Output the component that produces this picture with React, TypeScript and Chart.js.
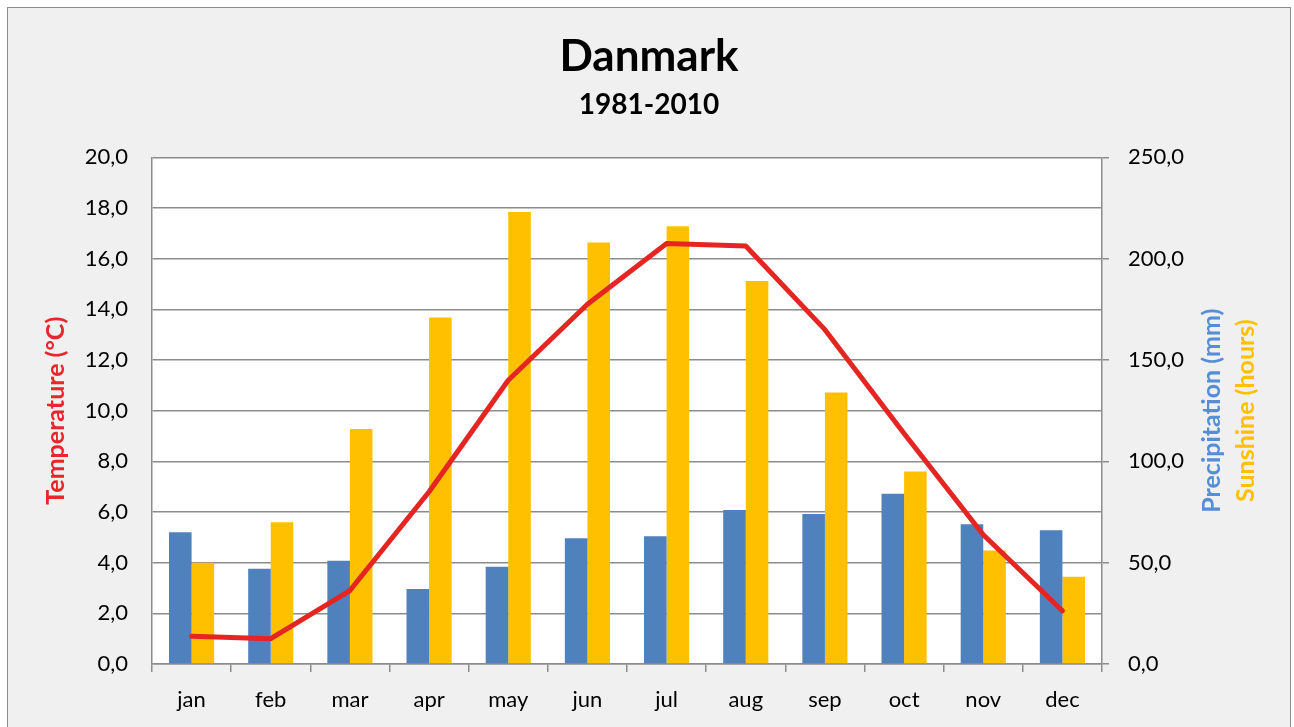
import React, { useEffect, useRef } from 'react';
import { Chart, registerables } from 'chart.js';

Chart.register(...registerables);

const months = ['jan', 'feb', 'mar', 'apr', 'may', 'jun', 'jul', 'aug', 'sep', 'oct', 'nov', 'dec'];
const temperature = [1.1, 1.0, 2.9, 6.8, 11.2, 14.2, 16.6, 16.5, 13.2, 9.1, 5.1, 2.1];
const precipitation = [65, 47, 51, 37, 48, 62, 63, 76, 74, 84, 69, 66];
const sunshine = [50, 70, 116, 171, 223, 208, 216, 189, 134, 95, 56, 43];

const FONT = 'Lato';
const GRID = '#8c8c8c';
const RED = '#e42521';
const RED_TITLE = '#e8262b';
const BLUE = '#4f81bd';
const BLUE_TITLE = '#558ed5';
const YELLOW = '#ffc000';

const fmt = (v: number | string) => Number(v).toFixed(1).replace('.', ',');

const plotBgPlugin = {
  id: 'plotBg',
  beforeDraw(chart: any) {
    const { ctx, chartArea } = chart;
    if (!chartArea) return;
    ctx.save();
    ctx.fillStyle = '#ffffff';
    ctx.fillRect(chartArea.left, chartArea.top, chartArea.right - chartArea.left, chartArea.bottom - chartArea.top);
    ctx.restore();
  },
};

const rightTitlesPlugin = {
  id: 'rightTitles',
  afterDraw(chart: any) {
    const { ctx, chartArea } = chart;
    if (!chartArea) return;
    const cy = (chartArea.top + chartArea.bottom) / 2;
    const items: [string, string, number][] = [
      ['Precipitation (mm)', BLUE_TITLE, chartArea.right + 110],
      ['Sunshine (hours)', YELLOW, chartArea.right + 144],
    ];
    ctx.save();
    ctx.font = `bold 25px ${FONT}`;
    ctx.textAlign = 'center';
    ctx.textBaseline = 'middle';
    for (const [text, color, x] of items) {
      ctx.save();
      ctx.translate(x, cy);
      ctx.rotate(-Math.PI / 2);
      ctx.fillStyle = color;
      ctx.fillText(text, 0, 0);
      ctx.restore();
    }
    ctx.restore();
  },
};

export default function App() {
  const canvasRef = useRef<HTMLCanvasElement | null>(null);

  useEffect(() => {
    const canvas = canvasRef.current;
    if (!canvas) return;
    const tickFont = { family: FONT, size: 22 };
    const chart = new Chart(canvas, {
      type: 'bar',
      data: {
        labels: months,
        datasets: [
          {
            type: 'bar',
            label: 'Precipitation (mm)',
            data: precipitation,
            backgroundColor: BLUE,
            borderWidth: 0,
            yAxisID: 'y1',
            order: 1,
            barPercentage: 1,
            categoryPercentage: 0.57,
          },
          {
            type: 'bar',
            label: 'Sunshine (hours)',
            data: sunshine,
            backgroundColor: YELLOW,
            borderWidth: 0,
            yAxisID: 'y1',
            order: 1,
            barPercentage: 1,
            categoryPercentage: 0.57,
          },
          {
            type: 'line',
            label: 'Temperature (°C)',
            data: temperature,
            borderColor: RED,
            backgroundColor: RED,
            borderWidth: 5,
            pointRadius: 0,
            tension: 0,
            borderJoinStyle: 'round',
            borderCapStyle: 'round',
            yAxisID: 'y',
            order: 0,
          } as any,
        ],
      },
      options: {
        responsive: false,
        animation: false,
        layout: { padding: 0 },
        plugins: {
          legend: { display: false },
          tooltip: { enabled: false },
          title: {
            display: true,
            text: 'Danmark',
            color: '#000',
            font: { family: FONT, size: 44, weight: 'bold' },
            padding: { top: 22, bottom: 5 },
          },
          subtitle: {
            display: true,
            text: '1981-2010',
            color: '#000',
            font: { family: FONT, size: 28, weight: 'bold' },
            padding: { top: 0, bottom: 36 },
          },
        },
        scales: {
          x: {
            grid: {
              display: true,
              drawOnChartArea: false,
              drawTicks: true,
              tickLength: 8,
              color: GRID,
              lineWidth: 1.5,
              offset: true,
            },
            border: { display: true, color: GRID, width: 1.5 },
            ticks: { font: tickFont, color: '#000', padding: 15 },
            afterFit: (s: any) => {
              s.height = 63;
            },
          },
          y: {
            position: 'left',
            min: 0,
            max: 20,
            ticks: { stepSize: 2, callback: fmt, font: tickFont, color: '#000', padding: 24 },
            grid: { drawTicks: false, color: GRID, lineWidth: 1.5 },
            border: { display: true, color: GRID, width: 1.5 },
            title: {
              display: true,
              text: 'Temperature (°C)',
              color: RED_TITLE,
              font: { family: FONT, size: 25, weight: 'bold' },
              padding: { top: 33, bottom: 0 },
            },
            afterFit: (s: any) => {
              s.width = 144;
            },
          },
          y1: {
            position: 'right',
            min: 0,
            max: 250,
            ticks: { stepSize: 50, callback: fmt, font: tickFont, color: '#000', padding: 19 },
            grid: { drawOnChartArea: false, drawTicks: true, tickLength: 7, color: GRID, lineWidth: 1.5 },
            border: { display: true, color: GRID, width: 1.5 },
            afterFit: (s: any) => {
              s.width = 188;
            },
          },
        },
      } as any,
      plugins: [plotBgPlugin, rightTitlesPlugin],
    });
    return () => chart.destroy();
  }, []);

  return (
    <div
      style={{
        position: 'absolute',
        left: 7,
        top: 7,
        width: 1284,
        height: 720,
        boxSizing: 'border-box',
        border: '1px solid #8c8c8c',
        borderBottom: 'none',
        background: '#f0f0f0',
        overflow: 'hidden',
      }}
    >
      <canvas ref={canvasRef} width={1282} height={719} style={{ display: 'block', width: 1282, height: 719 }} />
    </div>
  );
}
